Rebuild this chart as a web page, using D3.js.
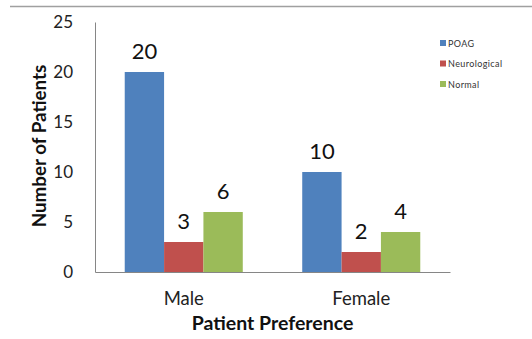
<!DOCTYPE html>
<html>
<head>
<meta charset="utf-8">
<script src="https://cdn.jsdelivr.net/npm/d3@7"></script>
<style>
  html, body { margin: 0; padding: 0; background: #fff; }
  svg { display: block; font-family: Lato, "Open Sans", sans-serif; }
</style>
</head>
<body>
<svg id="chart" width="532" height="339"></svg>
<script>
// Patient counts by gender for each diagnosis group
const categories = ["Male", "Female"];
const seriesNames = ["POAG", "Neurological", "Normal"];
const poag = [20, 10];
const neurological = [3, 2];
const normal = [6, 4];
const yTicks = [0, 5, 10, 15, 20, 25];
const colors = ["#4F81BD", "#C0504D", "#9BBB59"];

const seriesValues = [poag, neurological, normal];
const rows = categories.map((c, i) => ({
  category: c,
  values: seriesNames.map((s, j) => ({ series: s, value: seriesValues[j][i] }))
}));

const svg = d3.select("#chart");
const margin = { left: 95, right: 82, top: 22, bottom: 67 };
const W = 532, H = 339;
const plotW = W - margin.left - margin.right;
const plotH = H - margin.top - margin.bottom;

// Thin rule across the top of the figure
svg.append("line")
  .attr("x1", 10).attr("x2", W).attr("y1", 6.5).attr("y2", 6.5)
  .attr("stroke", "#a0a0a0").attr("stroke-width", 1.5);

const g = svg.append("g").attr("transform", `translate(${margin.left},${margin.top})`);

const x0 = d3.scaleBand().domain(categories).range([0, plotW]).paddingInner(0.335).paddingOuter(0.1675);
const x1 = d3.scaleBand().domain(seriesNames).range([0, x0.bandwidth()]).padding(0);
const y = d3.scaleLinear().domain([0, 25]).range([plotH, 0]);
const color = d3.scaleOrdinal().domain(seriesNames).range(colors);

// Y axis
const yAxis = g.append("g")
  .call(d3.axisLeft(y).tickValues(yTicks).tickSize(0).tickPadding(22));
yAxis.select(".domain").attr("stroke", "#868686");
yAxis.selectAll("text").attr("font-size", 17).attr("fill", "#222")
  .attr("font-family", "Lato, sans-serif");

// X axis
const xAxis = g.append("g").attr("transform", `translate(0,${plotH})`)
  .call(d3.axisBottom(x0).tickSize(0).tickPadding(20));
xAxis.select(".domain").attr("stroke", "#868686");
xAxis.selectAll("text").attr("font-size", 18.5).attr("fill", "#222")
  .attr("font-family", "Lato, sans-serif");

// Bars
const groups = g.selectAll(".grp").data(rows).join("g")
  .attr("class", "grp")
  .attr("transform", d => `translate(${x0(d.category)},0)`);

groups.selectAll("rect").data(d => d.values).join("rect")
  .attr("x", d => x1(d.series))
  .attr("width", x1.bandwidth())
  .attr("y", d => y(d.value))
  .attr("height", d => y(0) - y(d.value))
  .attr("fill", d => color(d.series));

// Value labels
groups.selectAll("text.val").data(d => d.values).join("text")
  .attr("class", "val")
  .attr("x", d => x1(d.series) + x1.bandwidth() / 2)
  .attr("y", d => y(d.value) - 13)
  .attr("text-anchor", "middle")
  .attr("font-size", 22)
  .attr("fill", "#111")
  .text(d => d.value);

// Axis titles
svg.append("text")
  .attr("x", margin.left + plotW / 2).attr("y", 330)
  .attr("text-anchor", "middle")
  .attr("font-size", 19.5).attr("font-weight", "bold").attr("fill", "#111")
  .text("Patient Preference");

svg.append("text")
  .attr("transform", `translate(46,146) rotate(-90)`)
  .attr("text-anchor", "middle")
  .attr("font-size", 18.8).attr("font-weight", "bold").attr("fill", "#111")
  .text("Number of Patients");

// Legend
const legend = svg.append("g").attr("transform", "translate(440,43)");
const li = legend.selectAll("g").data(seriesNames).join("g")
  .attr("transform", (d, i) => `translate(0,${i * 20.5})`);
li.append("rect").attr("x", 0).attr("y", -3).attr("width", 6).attr("height", 6)
  .attr("fill", d => color(d));
li.append("text").attr("x", 8).attr("y", 3.5)
  .attr("font-size", 9).attr("letter-spacing", 0.4).attr("fill", "#333")
  .text(d => d);
</script>
</body>
</html>
